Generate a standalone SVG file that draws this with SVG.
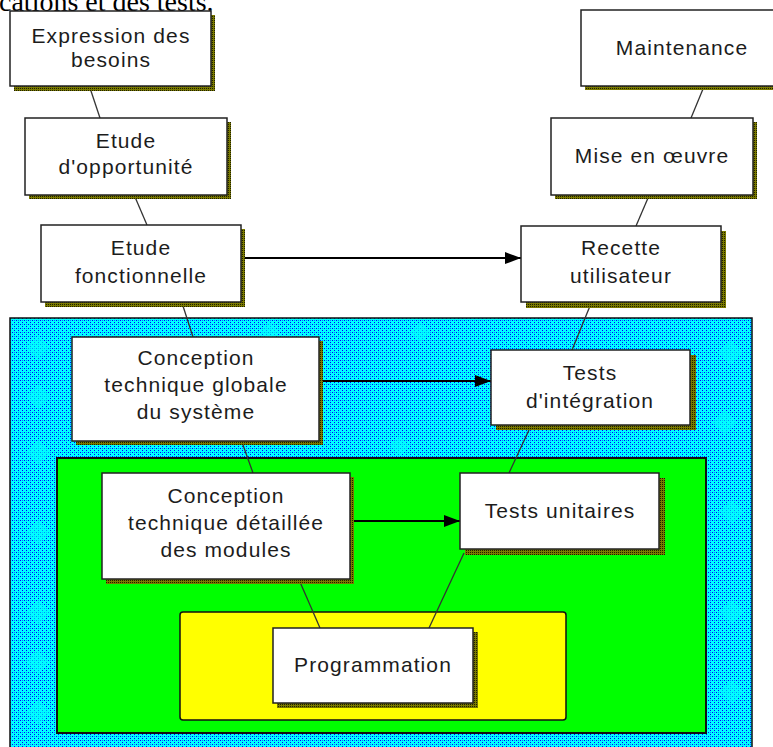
<svg xmlns="http://www.w3.org/2000/svg" width="773" height="747" viewBox="0 0 773 747">
  <style>
    .box { fill: #ffffff; stroke: #222222; stroke-width: 1.5; }
    .shadow { fill: url(#olive); }
    .lbl { font-family: "Liberation Sans", Arial, sans-serif; font-size: 21px; letter-spacing: 1.1px; fill: #1c1c1c; text-anchor: middle; }
    .link { stroke: #333333; stroke-width: 1.3; fill: none; }
    .flow { stroke: #000000; stroke-width: 2; fill: none; marker-end: url(#head); }
    .spark { fill: #00ffff; }
  </style>
  <defs>
    <!-- dithered cyan/blue texture -->
    <pattern id="dots" width="4" height="4" patternUnits="userSpaceOnUse">
      <rect width="4" height="4" fill="#00ffff"/>
      <rect x="0" y="0" width="1" height="1" fill="#0000ff"/>
      <rect x="2" y="2" width="1" height="1" fill="#0000ff"/>
      <rect x="2" y="0" width="1" height="1" fill="#0000ff" opacity="0.5"/>
    </pattern>
    <!-- dotted olive drop shadow -->
    <pattern id="olive" width="2" height="2" patternUnits="userSpaceOnUse">
      <rect width="2" height="2" fill="#7a7a00"/>
      <rect x="0" y="0" width="1" height="1" fill="#202000"/>
    </pattern>
    <marker id="head" viewBox="0 0 16 12" refX="16" refY="6" markerWidth="16" markerHeight="12" markerUnits="userSpaceOnUse" orient="auto">
      <path d="M0,0 L16,6 L0,12 z" fill="#000000"/>
    </marker>
  </defs>

  <rect width="773" height="747" fill="#ffffff"/>

  <!-- caption line cut at the top edge -->
  <text x="-1" y="11" font-family="'Liberation Serif', 'Times New Roman', serif" font-size="28" fill="#000000">cations et des tests.</text>

  <!-- nested zones -->
  <g id="zone-system">
    <rect x="10" y="318" width="742" height="440" fill="url(#dots)" stroke="#111111" stroke-width="1.5"/>
    <path class="spark" d="M38,335 l12,12 l-12,12 l-12,-12z M38,385 l12,12 l-12,12 l-12,-12z M38,440 l12,12 l-12,12 l-12,-12z M38,520 l12,12 l-12,12 l-12,-12z M38,600 l12,12 l-12,12 l-12,-12z M38,650 l12,12 l-12,12 l-12,-12z M38,700 l12,12 l-12,12 l-12,-12z M270,322 l10,10 l-10,10 l-10,-10z M420,322 l10,10 l-10,10 l-10,-10z M730,340 l12,12 l-12,12 l-12,-12z M725,410 l12,12 l-12,12 l-12,-12z M732,500 l12,12 l-12,12 l-12,-12z M732,600 l12,12 l-12,12 l-12,-12z M732,680 l12,12 l-12,12 l-12,-12z M400,436 l10,10 l-10,10 l-10,-10z" opacity="0.55"/>
  </g>
  <g id="zone-modules">
    <rect x="57" y="458" width="649" height="275" fill="#00ff00" stroke="#111111" stroke-width="2"/>
  </g>
  <g id="zone-code">
    <rect x="180" y="612" width="386" height="108" rx="3" fill="#ffff00" stroke="#111111" stroke-width="1.5"/>
  </g>

  <!-- connectors -->
  <g id="connectors">
    <line class="link" x1="90" y1="88" x2="100" y2="118"/>
    <line class="link" x1="135" y1="197" x2="147" y2="225"/>
    <line class="link" x1="183" y1="306" x2="193" y2="337"/>
    <line class="link" x1="243" y1="445" x2="253" y2="473"/>
    <line class="link" x1="300" y1="582" x2="320" y2="628"/>
    <line class="link" x1="703" y1="89" x2="691" y2="118"/>
    <line class="link" x1="648" y1="198" x2="636" y2="226"/>
    <line class="link" x1="590" y1="306" x2="572" y2="350"/>
    <line class="link" x1="529" y1="430" x2="509" y2="473"/>
    <line class="link" x1="464" y1="553" x2="429" y2="628"/>
    <line class="flow" x1="243" y1="258" x2="521" y2="258"/>
    <line class="flow" x1="322" y1="381" x2="491" y2="381"/>
    <line class="flow" x1="353" y1="521" x2="460" y2="521"/>
  </g>

  <!-- activity boxes -->
  <g id="expression-besoins">
    <rect class="shadow" x="14" y="15" width="201" height="76"/>
    <rect class="box" x="10" y="11" width="201" height="75"/>
    <text class="lbl" x="111" y="43">Expression des</text>
    <text class="lbl" x="111" y="67">besoins</text>
  </g>
  <g id="etude-opportunite">
    <rect class="shadow" x="29" y="122" width="202" height="77"/>
    <rect class="box" x="25" y="118" width="202" height="77"/>
    <text class="lbl" x="126" y="148">Etude</text>
    <text class="lbl" x="126" y="174">d'opportunité</text>
  </g>
  <g id="etude-fonctionnelle">
    <rect class="shadow" x="45" y="229" width="200" height="78"/>
    <rect class="box" x="41" y="225" width="200" height="77"/>
    <text class="lbl" x="141" y="255">Etude</text>
    <text class="lbl" x="141" y="283">fonctionnelle</text>
  </g>
  <g id="conception-globale">
    <rect class="shadow" x="76" y="341" width="247" height="104"/>
    <rect class="box" x="72" y="337" width="247" height="104"/>
    <text class="lbl" x="196" y="365">Conception</text>
    <text class="lbl" x="196" y="392">technique globale</text>
    <text class="lbl" x="196" y="419">du système</text>
  </g>
  <g id="conception-detaillee">
    <rect class="shadow" x="106" y="477" width="248" height="107"/>
    <rect class="box" x="102" y="473" width="248" height="106"/>
    <text class="lbl" x="226" y="503">Conception</text>
    <text class="lbl" x="226" y="530">technique détaillée</text>
    <text class="lbl" x="226" y="557">des modules</text>
  </g>
  <g id="programmation">
    <rect class="shadow" x="277" y="632" width="201" height="76"/>
    <rect class="box" x="273" y="628" width="200" height="75"/>
    <text class="lbl" x="373" y="672">Programmation</text>
  </g>
  <g id="tests-unitaires">
    <rect class="shadow" x="465" y="478" width="200" height="77"/>
    <rect class="box" x="460" y="473" width="199" height="76"/>
    <text class="lbl" x="560" y="518">Tests unitaires</text>
  </g>
  <g id="tests-integration">
    <rect class="shadow" x="496" y="355" width="200" height="75"/>
    <rect class="box" x="491" y="350" width="199" height="75"/>
    <text class="lbl" x="590" y="380">Tests</text>
    <text class="lbl" x="590" y="408">d'intégration</text>
  </g>
  <g id="recette-utilisateur">
    <rect class="shadow" x="526" y="231" width="200" height="77"/>
    <rect class="box" x="521" y="226" width="200" height="76" stroke="#555555"/>
    <text class="lbl" x="621" y="255">Recette</text>
    <text class="lbl" x="621" y="283">utilisateur</text>
  </g>
  <g id="mise-en-oeuvre">
    <rect class="shadow" x="555" y="122" width="202" height="77"/>
    <rect class="box" x="551" y="118" width="202" height="77"/>
    <text class="lbl" x="652" y="163">Mise en œuvre</text>
  </g>
  <g id="maintenance">
    <rect class="shadow" x="585" y="14" width="210" height="76"/>
    <rect class="box" x="581" y="10" width="210" height="76" stroke="#444444"/>
    <text class="lbl" x="682" y="55">Maintenance</text>
  </g>
</svg>
